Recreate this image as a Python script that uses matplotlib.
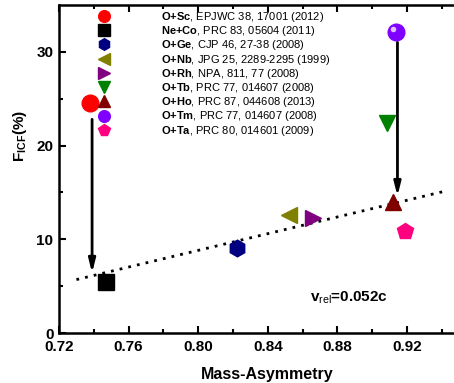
import matplotlib
matplotlib.use("Agg")
import matplotlib.pyplot as plt
from matplotlib.transforms import ScaledTranslation

plt.rcParams['font.family'] = ['Liberation Sans', 'DejaVu Sans']
plt.rcParams['mathtext.fontset'] = 'custom'
plt.rcParams['mathtext.rm'] = 'Liberation Sans'
plt.rcParams['mathtext.bf'] = 'Liberation Sans:bold'
plt.rcParams['mathtext.it'] = 'Liberation Sans'

# reactions: mass asymmetry vs ICF fraction
systems = ["O+Sc", "Ne+Co", "O+Ge", "O+Nb", "O+Rh", "O+Tb", "O+Ho", "O+Tm", "O+Ta"]
refs = ["EPJWC 38, 17001 (2012)", "PRC 83, 05604 (2011)", "CJP 46, 27-38 (2008)",
        "JPG 25, 2289-2295 (1999)", "NPA, 811, 77 (2008)", "PRC 77, 014607 (2008)",
        "PRC 87, 044608 (2013)", "PRC 77, 014607 (2008)", "PRC 80, 014601 (2009)"]
asym = [0.738, 0.747, 0.822, 0.852, 0.866, 0.9085, 0.912, 0.9135, 0.919]
ficf = [24.5, 5.4, 9.1, 12.6, 12.3, 22.4, 14.0, 32.1, 10.9]
markers = ["o", "s", "h", "<", ">", "v", "^", "o", "p"]
colors = ["#ff0000", "#000000", "#000080", "#808000", "#800080",
          "#008000", "#800000", "#8000ff", "#ff0080"]

# dotted systematics line
fit_x = [0.730, 0.941]
fit_y = [5.7, 15.1]

# arrows (x, y_start, y_end)
arrows = [(0.739, 22.8, 6.4), (0.9145, 31.0, 14.6)]

fig = plt.figure(figsize=(4.54, 3.83), dpi=100)
ax = fig.add_axes([0.130, 0.1305, 0.870, 0.8565])

ax.plot(fit_x, fit_y, color="black", linestyle=(0, (1, 2.2)), linewidth=2)

for xa, y0, y1 in arrows:
    ax.annotate("", xy=(xa, y1), xytext=(xa, y0),
                arrowprops=dict(arrowstyle="-|>,head_length=0.8,head_width=0.2",
                                color="black", lw=2, shrinkA=0, shrinkB=0))

for i in range(len(systems)):
    lab = r"$\mathbf{%s}$, %s" % (systems[i].replace("+", "{+}"), refs[i])
    ax.plot(asym[i], ficf[i], linestyle="none", marker=markers[i], markersize=12,
            color=colors[i], markeredgecolor=colors[i], label=lab)

# highlight on the Tm sphere
hl = ax.transData + ScaledTranslation(-2 / 72, 2 / 72, fig.dpi_scale_trans)
ax.plot(asym[7], ficf[7], linestyle="none", marker="o", markersize=4,
        color="#e0c0ff", markeredgewidth=0, transform=hl)

ax.legend(loc="upper left", bbox_to_anchor=(0.085, 0.985), frameon=False,
          fontsize=8, markerscale=0.7, numpoints=1, handlelength=2,
          handletextpad=4.2, labelspacing=0.02, borderpad=0, borderaxespad=0)

ax.text(0.864, 3.4, r"v$_{\mathrm{rel}}$=0.052c", fontsize=11, fontweight="bold")

ax.set_xlim(0.72, 0.947)
ax.set_ylim(0, 35)
ax.set_xticks([0.72, 0.76, 0.80, 0.84, 0.88, 0.92])
ax.set_xticklabels(["0.72", "0.76", "0.80", "0.84", "0.88", "0.92"])
ax.set_xticks([0.74, 0.78, 0.82, 0.86, 0.90, 0.94], minor=True)
ax.set_yticks([0, 10, 20, 30])
ax.set_yticks([5, 15, 25], minor=True)

ax.spines["right"].set_visible(False)
for s in ["left", "bottom", "top"]:
    ax.spines[s].set_linewidth(1.8)
ax.tick_params(which="both", direction="in", top=True, right=False, width=1.5)
ax.tick_params(which="major", length=5, labelsize=11)
ax.tick_params(which="minor", length=3)
ax.tick_params(axis="x", pad=5)
ax.tick_params(axis="y", pad=4)
for t in ax.get_xticklabels() + ax.get_yticklabels():
    t.set_fontweight("bold")

ax.set_xlabel("Mass-Asymmetry", fontsize=11.5, fontweight="bold")
ax.xaxis.set_label_coords(0.527, -0.105)
ax.set_ylabel(r"F$_{\mathbf{ICF}}$(%)", fontsize=11, fontweight="bold")
ax.yaxis.set_label_coords(-0.075, 0.6)

fig.savefig("out.png", dpi=100)
